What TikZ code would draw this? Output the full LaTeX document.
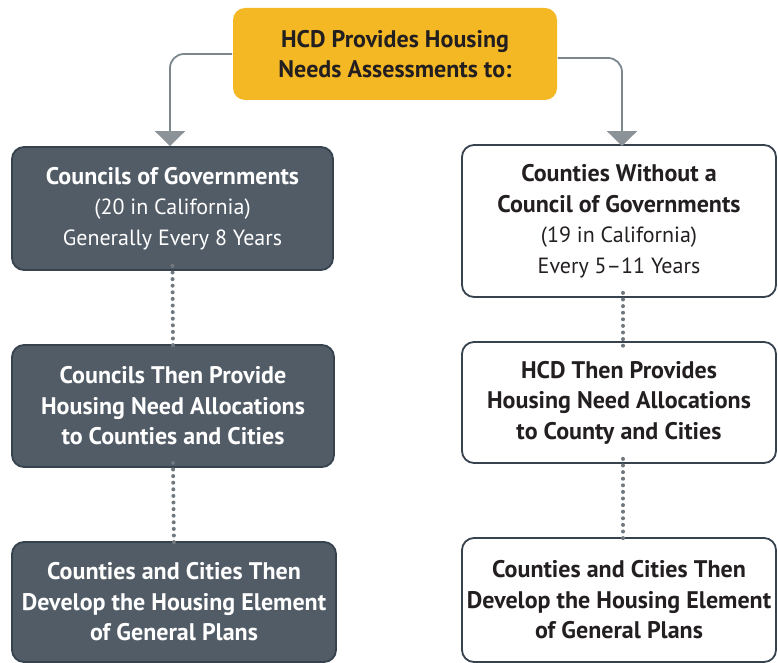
\documentclass[tikz,border=0pt]{standalone}
\usepackage{fontspec}
\setmainfont{PT Sans}
\usetikzlibrary{arrows.meta}
\definecolor{hcdyellow}{HTML}{F3B824}
\definecolor{slatefill}{HTML}{525C67}
\definecolor{slateline}{HTML}{36424D}
\definecolor{conngray}{HTML}{7C878E}
\definecolor{dotgray}{HTML}{6F787F}
\definecolor{tipgray}{HTML}{8B9298}
\definecolor{textdark}{HTML}{231F20}
\newcommand{\bl}[1]{{\fontsize{24}{30}\selectfont\bfseries #1}}
\newcommand{\rl}[1]{{\fontsize{22}{30}\selectfont #1}}
\tikzset{
  box/.style={rectangle, rounded corners=12pt, align=center, inner sep=0pt,
    font=\fontsize{24}{30.5}\selectfont, line width=1.8pt},
  darkbox/.style={box, fill=slatefill, draw=slateline, text=white},
  lightbox/.style={box, fill=white, draw=slateline, text=textdark},
  topbox/.style={box, fill=hcdyellow, draw=none, text=textdark, font=\fontsize{24}{30}\selectfont\bfseries},
  conn/.style={draw=conngray, line width=1.8pt, rounded corners=14pt,
    -{Triangle[width=30pt,length=15pt,fill=tipgray,color=tipgray]}},
  dots/.style={draw=dotgray, line width=4pt, line cap=round, dash pattern=on 0pt off 6.6pt}
}
\begin{document}
\begin{tikzpicture}[x=1pt,y=-1pt]
\useasboundingbox[fill=white] (0,0) rectangle (778,663);
\node[topbox, minimum width=324pt, minimum height=92pt] (top) at (395,54)
  {HCD Provides Housing\\Needs Assessments to:};
\node[darkbox, minimum width=321pt, minimum height=123pt] (L1) at (172.5,208.5)
  {\bl{Councils of Governments}\\\rl{(20 in California)}\\\rl{Generally Every 8 Years}};
\node[darkbox, minimum width=322pt, minimum height=122pt] (L2) at (173,406)
  {\bl{Councils Then Provide}\\\bl{Housing Need Allocations}\\\bl{to Counties and Cities}};
\node[darkbox, minimum width=324pt, minimum height=120pt] (L3) at (174,602)
  {\bl{Counties and Cities Then}\\\bl{Develop the Housing Element}\\\bl{of General Plans}};
\node[lightbox, minimum width=314pt, minimum height=152pt] (R1) at (619,221)
  {\bl{Counties Without a}\\\bl{Council of Governments}\\\rl{(19 in California)}\\\rl{Every 5--11 Years}};
\node[lightbox, minimum width=314pt, minimum height=121pt] (R2) at (619,402.5)
  {\bl{HCD Then Provides}\\\bl{Housing Need Allocations}\\\bl{to County and Cities}};
\node[lightbox, minimum width=314pt, minimum height=124pt] (R3) at (619,600)
  {\bl{Counties and Cities Then}\\\bl{Develop the Housing Element}\\\bl{of General Plans}};
\draw[conn] (top.west) -| ([xshift=-2.5pt]L1.north);
\draw[conn] ([yshift=-4pt]top.east) -| ([xshift=3pt,yshift=-2pt]R1.north);
\draw[dots] ([yshift=5pt]L1.south) -- ([yshift=-5pt]L2.north);
\draw[dots] ([yshift=5pt]L2.south) -- ([yshift=-5pt]L3.north);
\draw[dots] ([xshift=4pt,yshift=5pt]R1.south) -- ([xshift=4pt,yshift=-5pt]R2.north);
\draw[dots] ([xshift=4pt,yshift=5pt]R2.south) -- ([xshift=4pt,yshift=-5pt]R3.north);
\end{tikzpicture}
\end{document}
